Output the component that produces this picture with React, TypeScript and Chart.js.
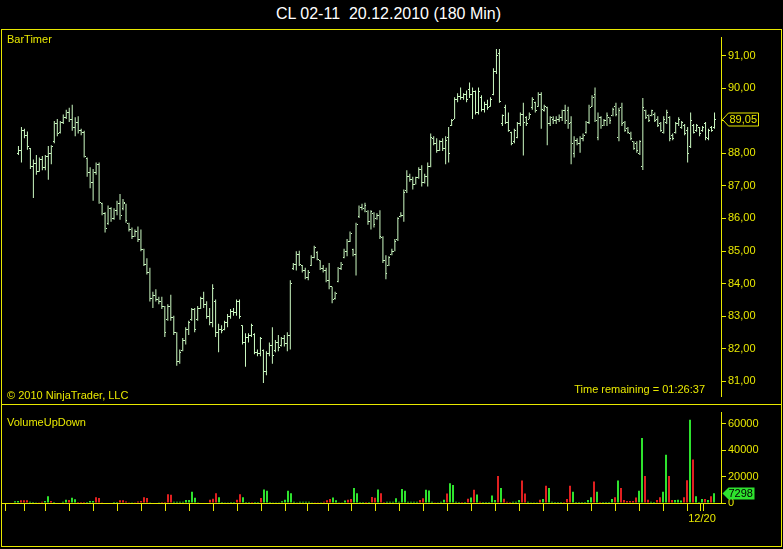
import React, { useEffect, useRef } from "react";
import { Chart, registerables } from "chart.js";

Chart.register(...registerables);

const TITLE = "CL 02-11  20.12.2010 (180 Min)";
const PRICE_TICKS = [81, 82, 83, 84, 85, 86, 87, 88, 89, 90, 91];
const VOLUME_TICKS = [0, 20000, 40000, 60000];
const DAY_TICKS = [0, 6, 14, 22, 30, 38, 46, 54, 62, 70, 78, 86, 94, 101, 108, 116, 124, 132, 140, 148, 156, 164, 172, 180, 188, 196, 204, 212, 220, 228, 229];
const DATE_TICK = 229;
const DATE_LABEL = "12/20";

const HIGH = [
  88.22, 88.81, 88.75, 88.67, 88.16, 87.81, 87.95, 87.87, 87.92, 87.95,
  88.22, 88.25, 88.99, 89.05, 88.99, 89.19, 89.34, 89.40, 89.49, 89.11,
  89.14, 88.75, 88.69, 87.87, 87.57, 87.52, 87.72, 87.72, 86.48, 86.19,
  86.40, 86.34, 86.31, 86.54, 86.75, 86.60, 86.45, 85.87, 85.72, 85.66,
  85.75, 85.66, 85.07, 84.78, 84.49, 83.75, 83.83, 83.60, 83.60, 83.31,
  83.37, 83.66, 83.01, 82.51, 81.98, 82.33, 82.66, 82.86, 83.25, 83.25,
  83.31, 83.60, 83.75, 83.46, 83.25, 83.98, 83.51, 82.77, 82.72, 82.86,
  83.07, 83.22, 83.25, 83.51, 83.51, 82.72, 82.48, 82.48, 82.77, 82.48,
  81.98, 82.36, 81.98, 81.92, 82.19, 82.66, 82.27, 82.42, 82.36, 82.42,
  82.51, 84.10, 84.63, 84.99, 85.01, 84.57, 84.49, 84.42, 84.87, 85.16,
  84.99, 84.72, 84.57, 84.49, 84.63, 83.90, 83.75, 84.51, 84.66, 85.07,
  85.37, 85.60, 85.07, 85.87, 86.40, 86.45, 86.48, 86.25, 86.25, 86.19,
  86.16, 86.25, 85.45, 84.87, 84.84, 85.07, 85.37, 86.04, 86.19, 86.89,
  87.48, 87.37, 87.28, 87.28, 87.57, 87.63, 87.37, 87.72, 88.61, 88.52,
  88.46, 88.40, 88.46, 88.52, 88.81, 89.05, 89.72, 89.84, 90.02, 89.84,
  89.93, 90.17, 90.02, 89.93, 90.02, 89.78, 89.58, 89.64, 89.72, 90.61,
  91.20, 91.20, 89.19, 89.49, 89.25, 88.66, 88.75, 88.96, 89.25, 89.55,
  89.14, 89.25, 89.72, 89.58, 89.87, 89.87, 89.49, 89.43, 89.14, 89.14,
  89.14, 89.19, 89.34, 89.49, 89.43, 89.14, 88.52, 88.46, 88.52, 88.61,
  88.99, 89.49, 89.78, 90.02, 89.25, 89.14, 89.05, 89.25, 89.11, 89.40,
  89.55, 89.40, 89.55, 88.99, 88.81, 88.66, 88.37, 88.37, 88.40, 89.70,
  89.34, 89.19, 89.34, 89.25, 89.14, 88.96, 89.14, 89.34, 89.14, 88.61,
  88.96, 89.11, 88.99, 88.90, 88.81, 89.25, 88.90, 88.90, 88.81, 88.84,
  88.96, 88.75, 88.84, 89.25
];

const LOW = [
  87.95, 87.72, 88.46, 88.11, 87.52, 86.63, 87.34, 87.43, 87.48, 87.48,
  87.19, 87.66, 88.31, 88.52, 88.61, 88.90, 89.05, 88.96, 88.69, 88.52,
  88.61, 88.55, 87.87, 87.28, 86.93, 86.54, 87.34, 86.45, 86.10, 85.57,
  85.81, 85.90, 85.96, 86.10, 85.96, 86.25, 85.87, 85.60, 85.37, 85.43,
  85.28, 84.99, 84.54, 84.28, 83.45, 83.25, 83.45, 83.37, 83.22, 82.36,
  82.86, 82.86, 82.42, 81.48, 81.54, 81.92, 82.13, 82.42, 82.86, 82.51,
  82.86, 83.22, 83.25, 82.92, 82.72, 82.66, 82.36, 81.89, 82.48, 82.57,
  82.66, 82.92, 83.01, 83.01, 82.92, 82.13, 81.45, 82.19, 82.36, 81.83,
  81.77, 81.77, 80.95, 81.19, 81.77, 81.54, 81.89, 81.92, 82.07, 82.07,
  81.92, 81.98, 84.42, 84.40, 84.54, 84.34, 84.13, 84.10, 84.54, 84.78,
  84.72, 84.42, 84.34, 84.04, 83.83, 83.40, 83.51, 84.04, 84.42, 84.78,
  84.84, 85.28, 84.84, 84.25, 86.01, 86.25, 86.19, 85.81, 85.66, 85.72,
  85.96, 85.37, 84.63, 84.13, 84.54, 84.87, 84.99, 85.31, 86.04, 85.90,
  86.78, 87.13, 86.89, 87.04, 87.22, 86.98, 87.07, 86.98, 87.57, 88.25,
  88.02, 88.07, 88.07, 87.66, 87.72, 88.84, 89.05, 89.57, 89.64, 89.64,
  89.57, 89.70, 89.05, 89.19, 89.19, 89.28, 89.25, 89.34, 89.43, 89.78,
  90.43, 89.55, 88.84, 88.90, 88.66, 88.25, 88.31, 88.46, 88.84, 87.93,
  88.84, 89.05, 89.34, 89.25, 89.43, 88.75, 89.28, 88.25, 88.84, 88.90,
  88.90, 88.96, 88.99, 88.90, 88.75, 87.66, 87.87, 88.25, 88.02, 88.37,
  88.61, 88.90, 89.43, 88.96, 88.40, 88.75, 88.84, 88.84, 88.90, 89.14,
  89.14, 88.37, 88.84, 88.66, 88.61, 88.40, 88.11, 88.02, 87.95, 87.49,
  89.05, 88.96, 89.14, 88.96, 88.81, 88.66, 88.61, 88.90, 88.37, 88.40,
  88.61, 88.84, 88.75, 88.55, 87.72, 88.16, 88.61, 88.66, 88.52, 88.66,
  88.40, 88.40, 88.66, 88.75
];

const OPEN = [
  88.00, 88.10, 88.70, 88.55, 88.15, 87.60, 87.70, 87.45, 87.80, 87.55,
  87.90, 88.00, 88.35, 88.90, 88.65, 88.95, 89.10, 89.25, 89.05, 88.80,
  88.95, 88.70, 88.65, 87.85, 87.40, 87.10, 87.40, 87.65, 86.45, 86.15,
  85.85, 86.30, 86.00, 86.25, 86.45, 86.30, 86.45, 85.85, 85.65, 85.45,
  85.60, 85.35, 85.05, 84.60, 84.35, 83.55, 83.65, 83.50, 83.45, 83.30,
  82.90, 83.30, 82.95, 82.50, 81.60, 81.95, 82.25, 82.60, 82.90, 83.20,
  82.90, 83.25, 83.55, 83.35, 83.00, 82.80, 83.45, 82.50, 82.60, 82.60,
  82.80, 83.00, 83.15, 83.10, 83.45, 82.70, 82.20, 82.35, 82.40, 82.45,
  81.90, 81.85, 81.95, 81.30, 81.85, 82.10, 81.95, 82.20, 82.10, 82.30,
  82.15, 82.40, 84.45, 84.60, 84.90, 84.55, 84.40, 84.20, 84.55, 84.80,
  84.95, 84.70, 84.45, 84.40, 84.10, 83.90, 83.55, 84.05, 84.45, 84.80,
  85.00, 85.30, 85.05, 84.90, 86.05, 86.35, 86.30, 86.20, 85.90, 86.15,
  86.00, 86.10, 85.40, 84.70, 84.55, 84.90, 85.00, 85.35, 86.05, 86.10,
  86.85, 87.30, 87.20, 87.05, 87.25, 87.50, 87.10, 87.30, 87.60, 88.45,
  88.30, 88.10, 88.35, 88.15, 88.50, 88.85, 89.05, 89.65, 89.75, 89.70,
  89.80, 89.95, 89.80, 89.90, 89.25, 89.70, 89.35, 89.50, 89.45, 89.80,
  90.50, 91.05, 88.90, 89.40, 88.95, 88.65, 88.35, 88.50, 88.90, 89.20,
  89.10, 89.05, 89.40, 89.55, 89.45, 89.80, 89.30, 89.40, 88.90, 89.05,
  89.00, 89.05, 89.10, 89.30, 89.30, 88.95, 88.00, 88.40, 88.30, 88.45,
  88.65, 88.95, 89.45, 89.80, 88.50, 89.10, 88.85, 89.00, 89.10, 89.15,
  89.45, 88.50, 89.40, 88.95, 88.75, 88.60, 88.35, 88.30, 88.00, 87.60,
  89.30, 89.15, 89.15, 89.20, 89.05, 88.90, 88.65, 88.95, 89.10, 88.55,
  88.65, 88.90, 88.80, 88.85, 88.70, 88.20, 88.85, 88.70, 88.80, 88.70,
  88.90, 88.45, 88.80, 88.80
];

const CLOSE = [
  88.10, 88.70, 88.55, 88.20, 87.60, 87.70, 87.45, 87.80, 87.55, 87.90,
  88.00, 88.20, 88.90, 88.60, 88.95, 89.10, 89.25, 89.05, 88.80, 88.95,
  88.70, 88.65, 87.90, 87.40, 87.10, 87.40, 87.65, 86.50, 86.15, 85.70,
  86.30, 86.00, 86.25, 86.45, 86.10, 86.50, 85.95, 85.65, 85.45, 85.60,
  85.35, 85.05, 84.60, 84.35, 83.55, 83.65, 83.50, 83.45, 83.30, 82.50,
  83.30, 82.95, 82.50, 81.60, 81.90, 82.25, 82.60, 82.80, 83.20, 82.60,
  83.25, 83.55, 83.35, 83.00, 82.80, 83.85, 82.50, 82.60, 82.55, 82.80,
  83.00, 83.15, 83.10, 83.45, 83.00, 82.20, 82.35, 82.40, 82.70, 81.90,
  81.85, 82.30, 81.30, 81.85, 82.10, 81.80, 82.20, 82.05, 82.30, 82.15,
  82.40, 84.00, 84.60, 84.90, 84.60, 84.40, 84.20, 84.35, 84.80, 85.10,
  84.75, 84.45, 84.40, 84.10, 83.90, 83.50, 83.70, 84.45, 84.60, 85.00,
  85.30, 85.55, 84.90, 85.80, 86.35, 86.30, 86.40, 85.90, 86.20, 85.80,
  86.10, 85.45, 84.70, 84.30, 84.80, 85.00, 85.30, 86.00, 86.10, 86.80,
  87.30, 87.20, 87.05, 87.25, 87.50, 87.10, 87.30, 87.60, 88.50, 88.30,
  88.10, 88.35, 88.15, 88.40, 88.00, 89.00, 89.65, 89.75, 89.70, 89.80,
  89.65, 89.80, 89.90, 89.25, 89.90, 89.35, 89.50, 89.40, 89.65, 90.50,
  91.00, 89.60, 89.15, 88.95, 88.70, 88.30, 88.70, 88.90, 89.20, 88.95,
  88.90, 89.20, 89.65, 89.30, 89.80, 89.35, 89.45, 88.90, 89.10, 89.00,
  89.05, 89.10, 89.30, 89.00, 88.90, 88.30, 88.40, 88.30, 88.45, 88.55,
  88.95, 89.40, 89.70, 89.00, 89.10, 88.85, 89.00, 89.15, 89.00, 89.35,
  89.20, 89.30, 88.90, 88.70, 88.65, 88.45, 88.15, 88.10, 88.35, 89.40,
  89.10, 89.00, 89.30, 89.00, 88.85, 88.70, 89.05, 89.25, 88.45, 88.45,
  88.90, 89.05, 88.95, 88.60, 88.00, 89.00, 88.65, 88.85, 88.60, 88.80,
  88.50, 88.70, 88.70, 89.05
];

const VOLUME = [
  1400, 1600, 2000, 2000, 2000, 1000, 800, 500, 500, 1000,
  1600, 5100, 1600, 700, 400, 400, 1000, 2500, 2300, 4000,
  2800, 800, 800, 800, 800, 1500, 1500, 4400, 3700, 600,
  300, 300, 300, 800, 800, 2000, 2000, 1200, 600, 600,
  600, 1200, 1600, 4400, 3700, 600, 400, 400, 600, 800,
  800, 6700, 6300, 1000, 1000, 1000, 1000, 2300, 2300, 8600,
  4000, 600, 400, 400, 400, 2500, 3300, 7400, 4400, 800,
  600, 600, 800, 800, 2500, 6700, 4400, 800, 800, 800,
  800, 800, 3700, 10200, 9300, 800, 600, 600, 600, 1400,
  2500, 9300, 7400, 1000, 600, 1000, 1000, 1000, 1000, 600,
  600, 600, 600, 1000, 2000, 3000, 4200, 2000, 600, 600,
  1800, 2500, 3000, 11400, 7400, 800, 800, 800, 800, 4600,
  3900, 10200, 7400, 700, 1000, 1000, 1000, 3500, 1000, 10500,
  9300, 1000, 1000, 1000, 1000, 2300, 3500, 10000, 9500, 1000,
  600, 600, 1000, 2500, 7200, 14900, 13700, 1000, 800, 800,
  800, 3300, 4200, 10000, 6500, 1000, 800, 800, 800, 5600,
  2300, 20500, 11400, 3300, 1000, 800, 1000, 1000, 2300, 17000,
  7200, 1000, 600, 600, 600, 2500, 3000, 13000, 11400, 1000,
  800, 800, 800, 800, 3000, 13000, 8600, 800, 800, 800,
  800, 2300, 4400, 16300, 8600, 800, 800, 800, 800, 3000,
  4400, 17000, 11400, 2300, 1500, 1500, 1500, 4200, 9300, 49100,
  20500, 2500, 1000, 800, 2300, 4400, 8600, 36500, 20500, 2300,
  2300, 2500, 1800, 4400, 17200, 63000, 33000, 5100, 800, 3000,
  3000, 2300, 5100, 7298
];

// g = up volume (green), r = down volume (red)
const VOLUME_DIR =
  "ggrrrgggrr" + "ggrgggggrg" + "grrrgggrrr" + "gggggrrrrg" + "rrrrrggggr" +
  "rrrggggggg" + "gggrrrrrgg" + "ggggrrgggr" + "ggrggggggg" + "gggggggggg" +
  "rrgrrrgggg" + "grrggggrgr" + "rgrrgggggg" + "gggggrrggg" + "rgggrggggr" +
  "grgrgrgggg" + "grgrrrgggr" + "rggggrgrgg" + "gggrrrgggg" + "gggrgrgggg" +
  "rgrrrrrrgg" + "rrggrrggrr" + "gggrrgrggg" + "rgrg";

const YELLOW = "#e8e800";
const BAR_COLOR = "#cdfbc3";
const UP_COLOR = "#2ee22e";
const DOWN_COLOR = "#e02020";
const FONT = '"Liberation Sans", Arial, sans-serif';

const PRICE_MIN = 80.538;
const PRICE_MAX = 91.551;
const VOL_MAX = 68400;

function tickImage(side: "open" | "close") {
  const c = document.createElement("canvas");
  c.width = 5;
  c.height = 1;
  const g = c.getContext("2d")!;
  g.fillStyle = BAR_COLOR;
  g.fillRect(side === "open" ? 1 : 3, 0, 1, 1);
  return c;
}

const crispImages = {
  id: "crispImages",
  beforeDatasetsDraw(chart: any) {
    chart.ctx.imageSmoothingEnabled = false;
  },
};

const priceMarker = {
  id: "priceMarker",
  afterDraw(chart: any) {
    const last = CLOSE[CLOSE.length - 1];
    const y = Math.round(chart.scales.y.getPixelForValue(last)) + 0.5;
    const x0 = chart.chartArea.right + 1.5;
    const ctx = chart.ctx;
    ctx.save();
    ctx.beginPath();
    ctx.moveTo(x0, y);
    ctx.lineTo(x0 + 6, y - 6.5);
    ctx.lineTo(x0 + 36, y - 6.5);
    ctx.lineTo(x0 + 36, y + 6.5);
    ctx.lineTo(x0 + 6, y + 6.5);
    ctx.closePath();
    ctx.fillStyle = "#000";
    ctx.fill();
    ctx.strokeStyle = YELLOW;
    ctx.lineWidth = 1;
    ctx.stroke();
    ctx.fillStyle = YELLOW;
    ctx.font = `11px ${FONT}`;
    ctx.textBaseline = "middle";
    ctx.fillText(last.toFixed(2).replace(".", ","), x0 + 7, y + 0.5);
    ctx.restore();
  },
};

const volumeMarker = {
  id: "volumeMarker",
  afterDraw(chart: any) {
    const last = VOLUME[VOLUME.length - 1];
    const y = Math.round(chart.scales.y.getPixelForValue(last)) + 0.5;
    const x0 = chart.chartArea.right + 1.5;
    const ctx = chart.ctx;
    ctx.save();
    ctx.beginPath();
    ctx.moveTo(x0, y);
    ctx.lineTo(x0 + 6, y - 6);
    ctx.lineTo(x0 + 32, y - 6);
    ctx.lineTo(x0 + 32, y + 6);
    ctx.lineTo(x0 + 6, y + 6);
    ctx.closePath();
    ctx.fillStyle = UP_COLOR;
    ctx.fill();
    ctx.fillStyle = "#000";
    ctx.font = `11px ${FONT}`;
    ctx.textBaseline = "middle";
    ctx.fillText(String(last), x0 + 6, y + 0.5);
    ctx.restore();
  },
};

const labelStyle = (left: number, top: number): React.CSSProperties => ({
  position: "absolute",
  left,
  top,
  color: YELLOW,
  fontSize: 11,
  lineHeight: "13px",
  whiteSpace: "nowrap",
});

export default function App() {
  const priceRef = useRef<HTMLCanvasElement>(null);
  const volRef = useRef<HTMLCanvasElement>(null);

  useEffect(() => {
    const idx = HIGH.map((_, i) => i);
    const priceChart = new Chart(priceRef.current!, {
      type: "bar",
      data: {
        datasets: [
          {
            type: "bar",
            data: idx.map((i) => ({ x: i, y: [LOW[i], HIGH[i]] })) as any,
            backgroundColor: BAR_COLOR,
            borderWidth: 0,
            barThickness: 1,
            inflateAmount: 0,
          } as any,
          {
            type: "line",
            data: idx.map((i) => ({ x: i, y: OPEN[i] })),
            showLine: false,
            pointStyle: tickImage("open"),
            pointRadius: 2,
          } as any,
          {
            type: "line",
            data: idx.map((i) => ({ x: i, y: CLOSE[i] })),
            showLine: false,
            pointStyle: tickImage("close"),
            pointRadius: 2,
          } as any,
        ],
      },
      options: {
        animation: false,
        responsive: false,
        devicePixelRatio: 1,
        events: [],
        layout: { padding: { left: 2, right: 0, top: 1, bottom: 1 } },
        plugins: { legend: { display: false }, tooltip: { enabled: false } },
        scales: {
          x: { type: "linear", display: false, min: -4.5, max: -4.5 + 719 / 3, offset: false },
          y: {
            position: "right",
            min: PRICE_MIN,
            max: PRICE_MAX,
            afterBuildTicks: (s: any) => {
              s.ticks = PRICE_TICKS.map((value) => ({ value }));
            },
            afterFit: (s: any) => {
              s.width = 62;
            },
            ticks: {
              color: YELLOW,
              font: { family: FONT, size: 11 },
              padding: 2,
              callback: (v: any) => Number(v).toFixed(2).replace(".", ","),
            },
            grid: { drawOnChartArea: false, color: YELLOW, tickLength: 5 },
            border: { color: YELLOW, width: 1 },
          },
        },
      } as any,
      plugins: [crispImages, priceMarker],
    });

    const volChart = new Chart(volRef.current!, {
      type: "bar",
      data: {
        datasets: [
          {
            data: idx.map((i) => ({ x: i, y: VOLUME[i] })),
            backgroundColor: idx.map((i) => (VOLUME_DIR[i] === "g" ? UP_COLOR : DOWN_COLOR)),
            borderWidth: 0,
            barThickness: 2,
            inflateAmount: 0,
          } as any,
        ],
      },
      options: {
        animation: false,
        responsive: false,
        devicePixelRatio: 1,
        events: [],
        layout: { padding: { left: 2, right: 0, top: 1, bottom: 0 } },
        plugins: { legend: { display: false }, tooltip: { enabled: false } },
        scales: {
          x: {
            type: "linear",
            min: -13 / 3,
            max: -13 / 3 + 719 / 3,
            offset: false,
            afterBuildTicks: (s: any) => {
              s.ticks = DAY_TICKS.map((value) => ({ value }));
            },
            afterFit: (s: any) => {
              s.height = 44;
            },
            ticks: {
              autoSkip: false,
              maxRotation: 0,
              color: YELLOW,
              font: { family: FONT, size: 11 },
              padding: 1,
              callback: (v: any) => (Number(v) === DATE_TICK ? DATE_LABEL : ""),
            },
            grid: { drawOnChartArea: false, color: YELLOW, tickLength: 8 },
            border: { color: YELLOW, width: 1 },
          },
          y: {
            position: "right",
            min: 0,
            max: VOL_MAX,
            afterBuildTicks: (s: any) => {
              s.ticks = VOLUME_TICKS.map((value) => ({ value }));
            },
            afterFit: (s: any) => {
              s.width = 62;
            },
            ticks: {
              color: YELLOW,
              font: { family: FONT, size: 11 },
              padding: 2,
              callback: (v: any) => String(v),
            },
            grid: { drawOnChartArea: false, color: YELLOW, tickLength: 5 },
            border: { color: YELLOW, width: 1 },
          },
        },
      } as any,
      plugins: [volumeMarker],
    });

    return () => {
      priceChart.destroy();
      volChart.destroy();
    };
  }, []);

  const line = (left: number, top: number, width: number, height: number): React.CSSProperties => ({
    position: "absolute",
    left,
    top,
    width,
    height,
    background: YELLOW,
  });

  return (
    <div
      style={{
        position: "fixed",
        left: 0,
        top: 0,
        width: 783,
        height: 549,
        background: "#000",
        overflow: "hidden",
        fontFamily: FONT,
      }}
    >
      <div
        style={{
          position: "absolute",
          left: 0,
          top: 5,
          width: 777,
          textAlign: "center",
          color: "#ffffff",
          fontSize: 16,
          lineHeight: "18px",
          whiteSpace: "pre",
        }}
      >
        {TITLE}
      </div>
      <canvas ref={priceRef} width={783} height={376} style={{ position: "absolute", left: 0, top: 29 }} />
      <canvas ref={volRef} width={783} height={143} style={{ position: "absolute", left: 0, top: 404 }} />
      <div style={line(1, 29, 781, 1)} />
      <div style={line(1, 404, 781, 1)} />
      <div style={line(1, 546, 781, 1)} />
      <div style={line(1, 29, 1, 518)} />
      <div style={line(781, 29, 1, 518)} />
      <div style={labelStyle(7, 33)}>BarTimer</div>
      <div style={labelStyle(7, 389)}>© 2010 NinjaTrader, LLC</div>
      <div style={{ ...labelStyle(0, 383), left: "auto", right: 78 }}>Time remaining = 01:26:37</div>
      <div style={labelStyle(7, 416)}>VolumeUpDown</div>
    </div>
  );
}
